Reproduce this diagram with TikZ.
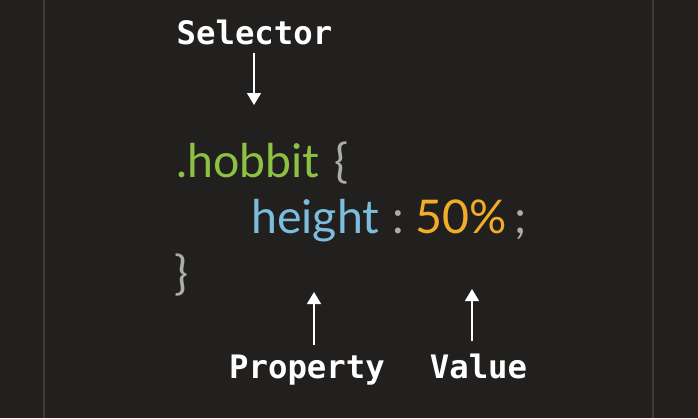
\documentclass[tikz,border=0pt]{standalone}
\usepackage{fontspec}
\usepackage{xcolor}
\usepackage{tikz}
\usetikzlibrary{arrows.meta, positioning}
\setmainfont{Lato}
\newfontfamily\labelfont{DejaVu Sans Mono}
\definecolor{bgdark}{RGB}{33, 32, 30}
\definecolor{rulegray}{RGB}{60, 60, 58}
\definecolor{selgreen}{RGB}{141, 193, 68}
\definecolor{propblue}{RGB}{124, 189, 221}
\definecolor{valorange}{RGB}{241, 173, 42}
\definecolor{punctgray}{RGB}{172, 172, 170}

\begin{document}
\begin{tikzpicture}[
    x=1pt, y=-1pt,
    label/.style={text=white, inner sep=0pt, anchor=base, font=\labelfont\bfseries\fontsize{32.3}{32}\selectfont},
    code/.style={inner sep=0pt, anchor=base west, font=\fontsize{46.5}{46}\selectfont},
    punct/.style={code, text=punctgray},
    arrow/.style={-{Triangle[width=14pt, length=12pt]}, line width=1.5pt, draw=white}
]
% Background
\fill[bgdark] (0,0) rectangle (698,418);
\useasboundingbox (0,0) rectangle (698,418);
\draw[rulegray, line width=1.5pt] (44,0) -- (44,418);
\draw[rulegray, line width=1.5pt] (653,0) -- (653,418);

% Rule
\node[code, text=selgreen] (hobbit) at (176,177) {.hobbit};
\node[punct, base right=15pt of hobbit] (lbrace) {\{};
\node[code, text=propblue] (height) at (251,233) {height};
\node[punct, base right=13pt of height] (colon) {:};
\node[code, text=valorange, base right=11pt of colon] (value) {50\%};
\node[punct, base right=7pt of value] (semi) {;};
\node[punct] (rbrace) at (174,289) {\}};

% Labels
\node[label] (selector) at (254.5,44) {Selector};
\node[label] (property) at (307,378) {Property};
\node[label] (valuelbl) at (478.5,378) {Value};

% Arrow ends
\coordinate (seltail) at (254,53);
\coordinate (seltip) at (254,105);
\coordinate (proptail) at (314,345);
\coordinate (proptip) at (314,292);
\coordinate (valtail) at (472,341);
\coordinate (valtip) at (472,289);

% Arrows
\draw[arrow] (seltail) -- (seltip);
\draw[arrow] (proptail) -- (proptip);
\draw[arrow] (valtail) -- (valtip);

\end{tikzpicture}
\end{document}
